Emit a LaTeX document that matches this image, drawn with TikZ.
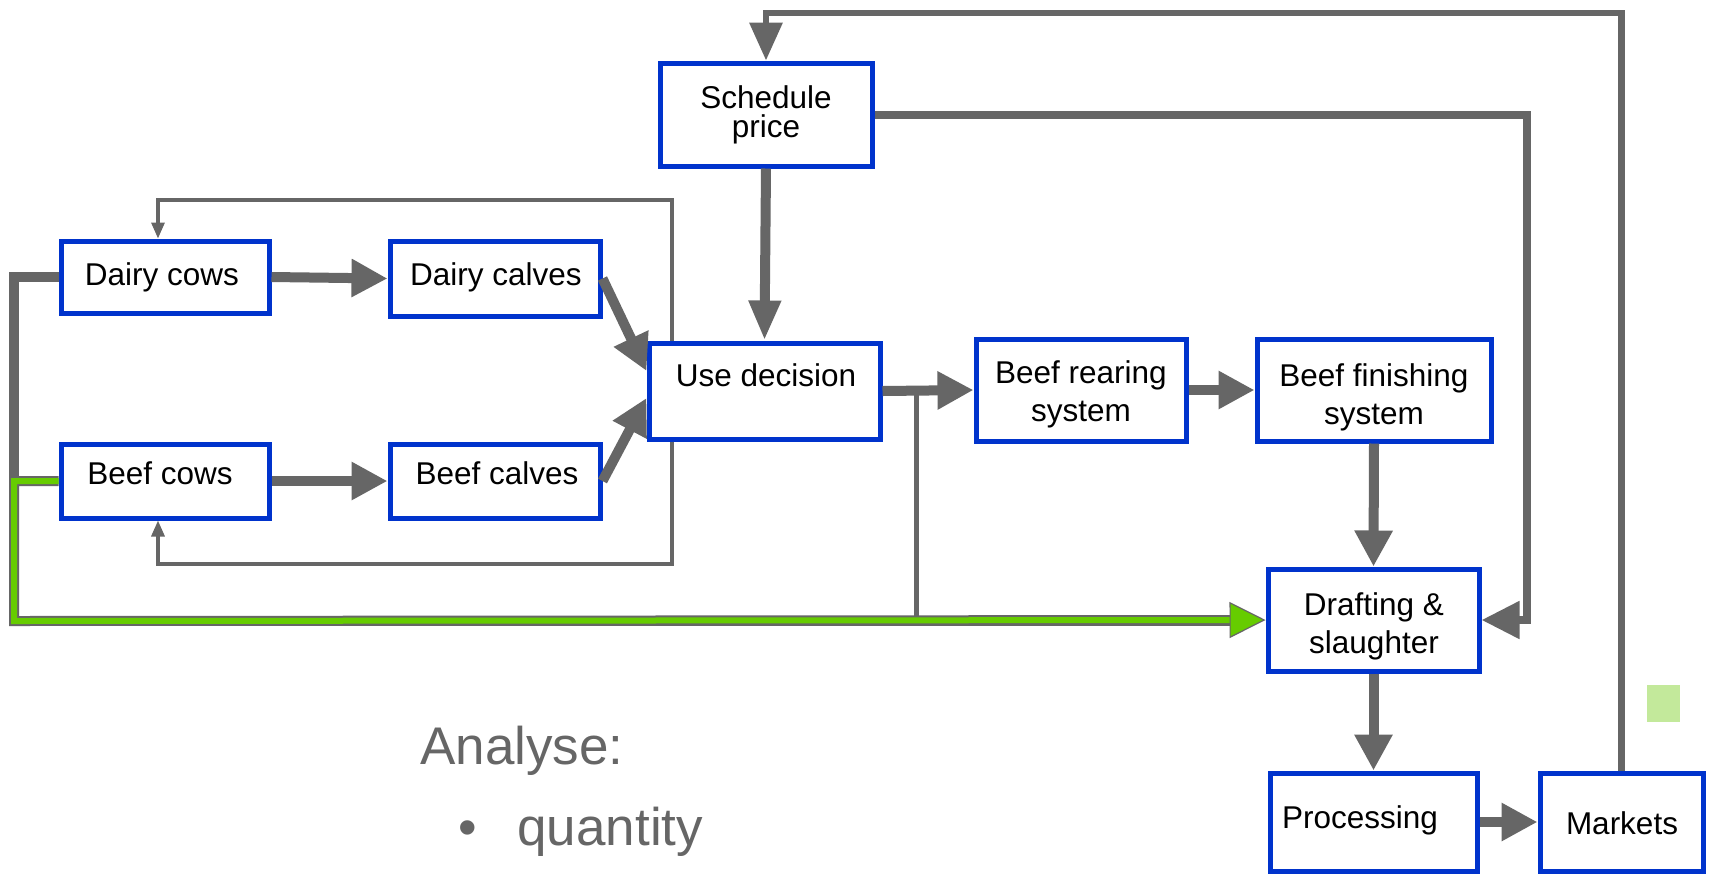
\documentclass[tikz,border=0pt]{standalone}
\usepackage{fontspec}
\setmainfont{Liberation Sans}
\usetikzlibrary{arrows.meta}
\definecolor{boxblue}{HTML}{0033CC}
\definecolor{lgray}{HTML}{666666}
\definecolor{lgreen}{HTML}{66CC00}
\definecolor{pgreen}{HTML}{C3E99B}
\begin{document}
\begin{tikzpicture}[x=0.5pt,y=-0.5pt,
  box/.style={draw=boxblue, line width=2.5pt, fill=white, rectangle, inner sep=0pt},
  lbl/.style={font=\fontsize{15.75pt}{18.9pt}\selectfont, align=center, inner sep=0pt},
  flow/.style={draw=lgray, line join=miter},
  bigarrow/.style={flow, line width=5pt, -{Triangle[length=18pt,width=18pt]}},
  thinarrow/.style={flow, line width=1.6pt, -{Triangle[length=8pt,width=6.5pt]}},
  note/.style={font=\fontsize{26.5pt}{32pt}\selectfont, text=lgray, inner sep=0pt, anchor=base west}]

\fill[white] (0,0) rectangle (1710,875);
\useasboundingbox (0,0) rectangle (1710,875);

% helper coordinates
\coordinate (topy) at (0,13);
\coordinate (rx) at (1527,0);
\coordinate (ux) at (672,0);
\coordinate (lx) at (158,0);
\coordinate (ty) at (0,200);
\coordinate (by) at (0,564);
\coordinate (jx) at (916,0);
\coordinate (gy) at (0,621);
\coordinate (gx) at (14,0);
\coordinate (endx) at (1240,0);

% boxes
\node[box, minimum width=106pt, minimum height=51.5pt] (sched) at (766,114.5) {};
\node[box, minimum width=104pt, minimum height=36pt] (dc) at (165,277) {};
\node[box, minimum width=105pt, minimum height=37.5pt] (dcalf) at (495,278.5) {};
\node[box, minimum width=104pt, minimum height=37pt] (bc) at (165,481) {};
\node[box, minimum width=105pt, minimum height=37pt] (bcalf) at (495,481) {};
\node[box, minimum width=115.5pt, minimum height=48pt] (use) at (764.5,391) {};
\node[box, minimum width=105pt, minimum height=51pt] (rear) at (1081,390) {};
\node[box, minimum width=117pt, minimum height=51pt] (fin) at (1374,390) {};
\node[box, minimum width=105.5pt, minimum height=51pt] (draft) at (1373.5,620) {};
\node[box, minimum width=103.5pt, minimum height=49pt] (proc) at (1373.5,822) {};
\node[box, minimum width=81.5pt, minimum height=49pt] (mkt) at (1621.5,822) {};

% labels
\node[lbl] (t-sched) at (766,114.5) {Schedule\\[-4.4pt]price};
\node[lbl] (t-dc) at (162,277) {Dairy cows};
\node[lbl] (t-dcalf) at (496,277) {Dairy calves};
\node[lbl] (t-bc) at (160,473) {Beef cows};
\node[lbl] (t-bcalf) at (497,473) {Beef calves};
\node[lbl] (t-use) at (766,375) {Use decision};
\node[lbl] (t-rear) at (1081,394) {Beef rearing\\system};
\node[lbl] (t-fin) at (1374,397) {Beef finishing\\system};
\node[lbl] (t-draft) at (1374,626) {Drafting \&\\slaughter};
\node[lbl] (t-proc) at (1360,820) {Processing};
\node[lbl] (t-mkt) at (1622,823) {Markets};

% feedback from markets to schedule price
\draw[flow, line width=3.25pt, -{Triangle[length=19pt,width=16pt]}]
  (mkt.north) |- (sched.north |- topy) -- (sched.north);
% schedule price to drafting
\draw[flow, line width=4pt, -{Triangle[length=19pt,width=18pt]}]
  (sched.east) -| (draft.east -| rx) -- (draft.east);
% schedule price to use decision
\draw[bigarrow, -{Triangle[length=20pt,width=15pt]}] (sched.south) -- (use.north);

% main flows
\draw[bigarrow] (dc.east) -- (dcalf.west);
\draw[bigarrow] (bc.east) -- (bcalf.west);
\draw[bigarrow] (dcalf.east) -- ([yshift=10pt]use.west);
\draw[bigarrow] (bcalf.east) -- ([yshift=-3.5pt]use.west);
\draw[bigarrow] (use.east) -- (rear.west);
\draw[bigarrow] (rear.east) -- (fin.west);
\draw[bigarrow] (fin.south) -- (draft.north);
\draw[bigarrow] (draft.south) -- (proc.north);
\draw[bigarrow] (proc.east) -- (mkt.west);

% replacement loops
\draw[thinarrow] (use.north -| ux) -- (ux |- ty) -- (lx |- ty) -- (dc.north -| lx);
\draw[thinarrow] (use.south -| ux) -- (ux |- by) -- (lx |- by) -- (bc.south -| lx);

% branch from use decision down to slaughter line
\draw[flow, line width=2.5pt] (use.east -| jx) -- (jx |- gy);

% culled dairy cows
\draw[flow, line width=5pt] (dc.west) -| (gx |- gy) -- (endx |- gy);
% culled beef cows (green with grey edge)
\draw[flow, line width=5pt, shorten >=17pt] (bc.west) -| (gx |- gy) -- (draft.west);
\draw[draw=lgreen, line width=3pt, line join=miter,
  -{Triangle[length=18pt,width=18pt,color=lgray,fill=lgreen,line width=0.6pt]}]
  (bc.west) -| (gx |- gy) -- (draft.west);

% small light green square
\fill[pgreen] (1647,685) rectangle (1680,722);

% text
\node[note] (an) at (420,764) {Analyse:};
\node[note] (bul) at (458,845) {•};
\node[note] (qt) at (517,845) {quantity};
\end{tikzpicture}
\end{document}
